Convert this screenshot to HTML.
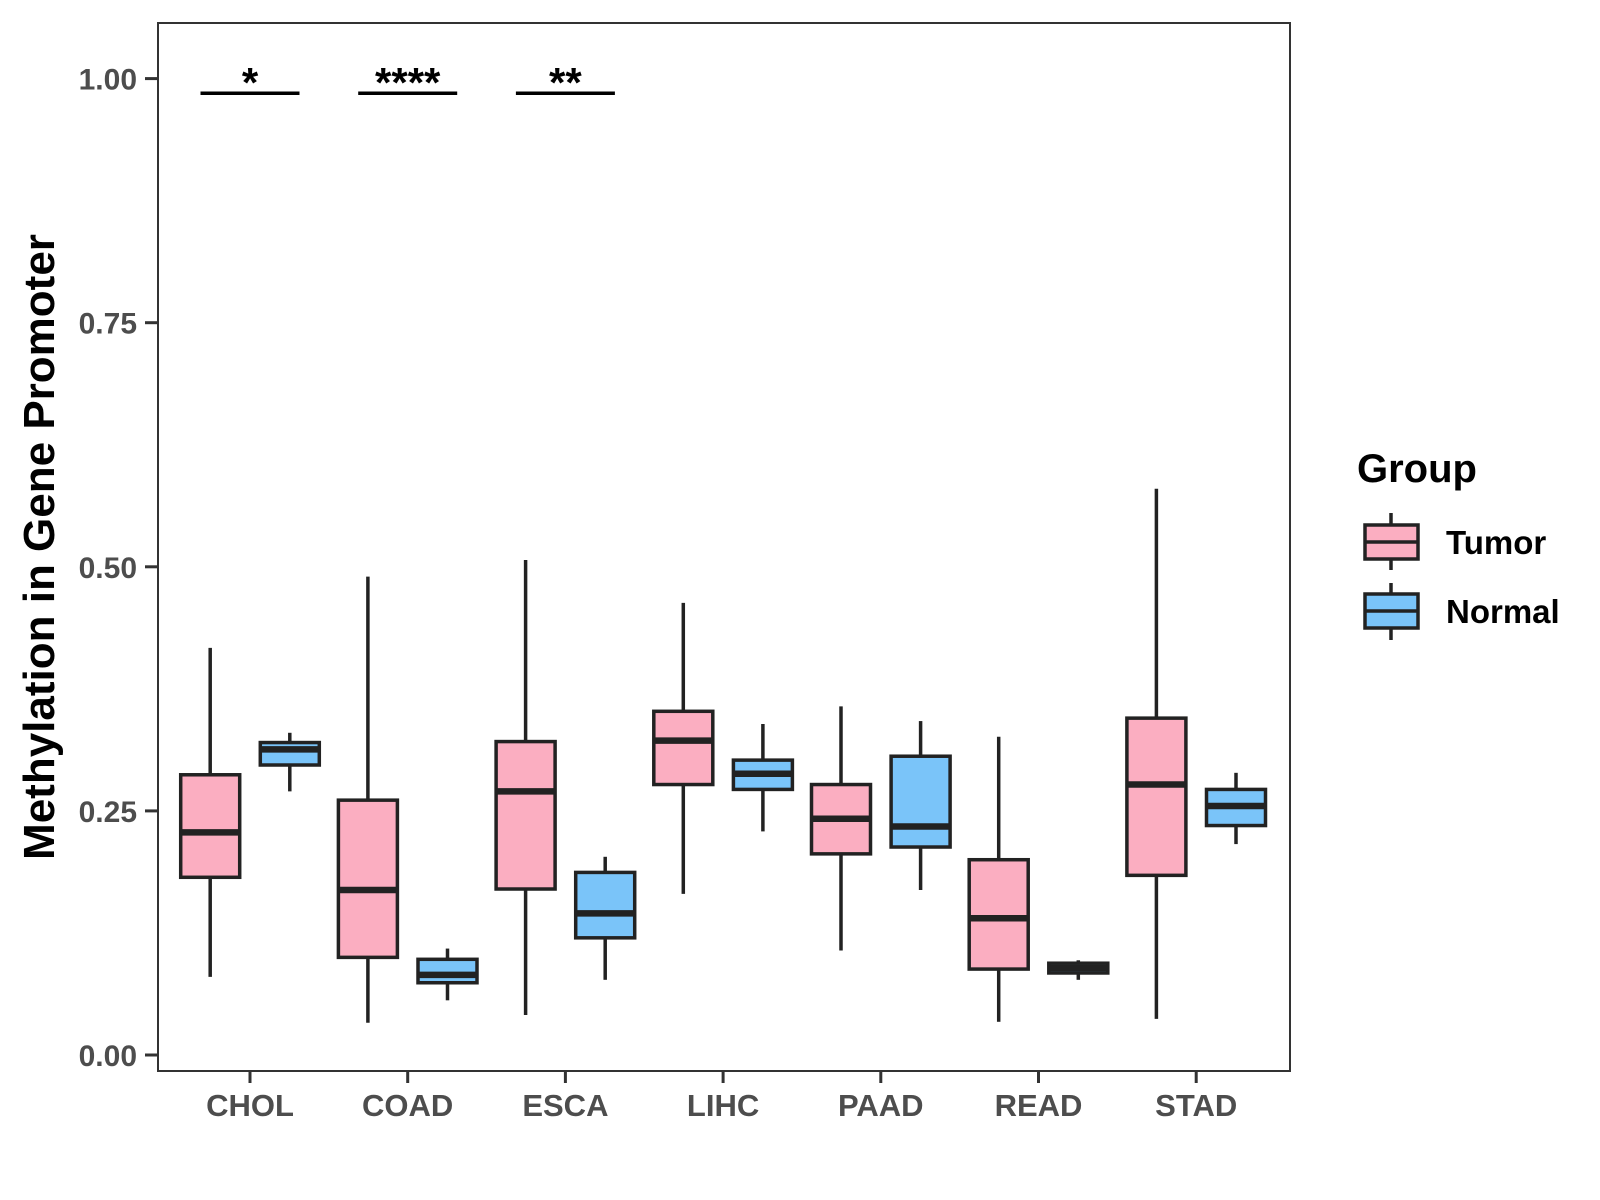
<!DOCTYPE html>
<html><head><meta charset="utf-8"><style>
html,body{margin:0;padding:0;background:#fff;}
svg{display:block;font-family:"Liberation Sans",Arial,sans-serif;font-weight:bold;}
</style></head><body>
<svg id="chart" width="1600" height="1200" viewBox="0 0 1600 1200">
<rect x="0" y="0" width="1600" height="1200" fill="#fff"/>
<g id="marks"></g>
<rect x="158" y="23" width="1132" height="1048" fill="none" stroke="#333" stroke-width="2"/>
<g id="axes"></g>
<text x="0" y="0" transform="translate(54,547) rotate(-90)" text-anchor="middle" font-size="44" fill="#000">Methylation in Gene Promoter</text>
<g>
<text x="1357" y="482" font-size="40" fill="#000">Group</text>
<g>
<line x1="1391" y1="513" x2="1391" y2="570" stroke="#222" stroke-width="3.5"/>
<rect x="1365" y="525" width="53" height="34" fill="#FBAEC1" stroke="#222" stroke-width="3.5"/>
<line x1="1365" y1="542" x2="1418" y2="542" stroke="#222" stroke-width="3.5"/>
<text x="1446" y="554" font-size="33" fill="#000">Tumor</text>
</g>
<g>
<line x1="1391" y1="583" x2="1391" y2="640" stroke="#222" stroke-width="3.5"/>
<rect x="1365" y="594" width="53" height="34" fill="#7AC4F9" stroke="#222" stroke-width="3.5"/>
<line x1="1365" y1="611" x2="1418" y2="611" stroke="#222" stroke-width="3.5"/>
<text x="1446" y="623" font-size="33" fill="#000">Normal</text>
</g>
</g>
</svg>
<script>
const categories = ["CHOL","COAD","ESCA","LIHC","PAAD","READ","STAD"];
// [lower whisker, Q1, median, Q3, upper whisker]
const tumorStats = [
 [0.080,0.182,0.228,0.287,0.417],
 [0.033,0.100,0.169,0.261,0.490],
 [0.041,0.170,0.270,0.321,0.507],
 [0.165,0.277,0.322,0.352,0.463],
 [0.107,0.206,0.242,0.277,0.357],
 [0.034,0.088,0.140,0.200,0.326],
 [0.037,0.184,0.277,0.345,0.580]
];
const normalStats = [
 [0.270,0.297,0.313,0.320,0.330],
 [0.056,0.074,0.082,0.098,0.109],
 [0.077,0.120,0.145,0.187,0.203],
 [0.229,0.272,0.288,0.302,0.339],
 [0.169,0.213,0.234,0.306,0.342],
 [0.077,0.084,0.089,0.094,0.097],
 [0.216,0.235,0.255,0.272,0.289]
];
const yTicks = [0, 0.25, 0.5, 0.75, 1.0];
const yTickLabels = ["0.00","0.25","0.50","0.75","1.00"];
const sigLabels = ["*","****","**","","","",""];
const sigLevel = 0.985;

const NS="http://www.w3.org/2000/svg";
function yScale(v){return 1055 - v*976.4;}
function xScale(i){return 250 + i*157.7;}
const marks=document.getElementById('marks');
const axes=document.getElementById('axes');
function mk(tag,attrs,parent){const e=document.createElementNS(NS,tag);for(const k in attrs)e.setAttribute(k,attrs[k]);parent.appendChild(e);return e;}

function drawBox(s,cx,fill,name){
  const g=mk('g',{},marks);
  
  
  const hw=29.5;
  mk('line',{x1:cx,x2:cx,y1:yScale(s[4]),y2:yScale(s[3]),stroke:'#222','stroke-width':3.5},g);
  mk('line',{x1:cx,x2:cx,y1:yScale(s[1]),y2:yScale(s[0]),stroke:'#222','stroke-width':3.5},g);
  mk('rect',{x:cx-hw,y:yScale(s[3]),width:hw*2,height:Math.max(1,yScale(s[1])-yScale(s[3])),fill:fill,stroke:'#222','stroke-width':3.5},g);
  mk('line',{x1:cx-hw,x2:cx+hw,y1:yScale(s[2]),y2:yScale(s[2]),stroke:'#222','stroke-width':6.5},g);
}
categories.forEach((c,i)=>{
  drawBox(tumorStats[i],xScale(i)-39.8,'#FBAEC1','box-tumor-'+c.toLowerCase());
  drawBox(normalStats[i],xScale(i)+39.8,'#7AC4F9','box-normal-'+c.toLowerCase());
  if(sigLabels[i]){
    const g=mk('g',{},marks);
    
    
    mk('line',{x1:xScale(i)-49.5,x2:xScale(i)+49.5,y1:yScale(sigLevel),y2:yScale(sigLevel),stroke:'#000','stroke-width':3.5},g);
    const t=mk('text',{x:xScale(i),y:yScale(sigLevel)+4,'text-anchor':'middle','font-size':42,fill:'#000'},g);
    t.textContent=sigLabels[i];
  }
  mk('line',{x1:xScale(i),x2:xScale(i),y1:1071,y2:1083,stroke:'#333','stroke-width':3},axes);
  const t=mk('text',{x:xScale(i),y:1116,'text-anchor':'middle','font-size':31,fill:'#4d4d4d'},axes);
  
  
  t.textContent=c;
});
yTicks.forEach((v,i)=>{
  mk('line',{x1:145,x2:158,y1:yScale(v),y2:yScale(v),stroke:'#333','stroke-width':3},axes);
  const t=mk('text',{x:137,y:yScale(v)+11,'text-anchor':'end','font-size':30,fill:'#4d4d4d'},axes);
  
  
  t.textContent=yTickLabels[i];
});
</script>
</body></html>
